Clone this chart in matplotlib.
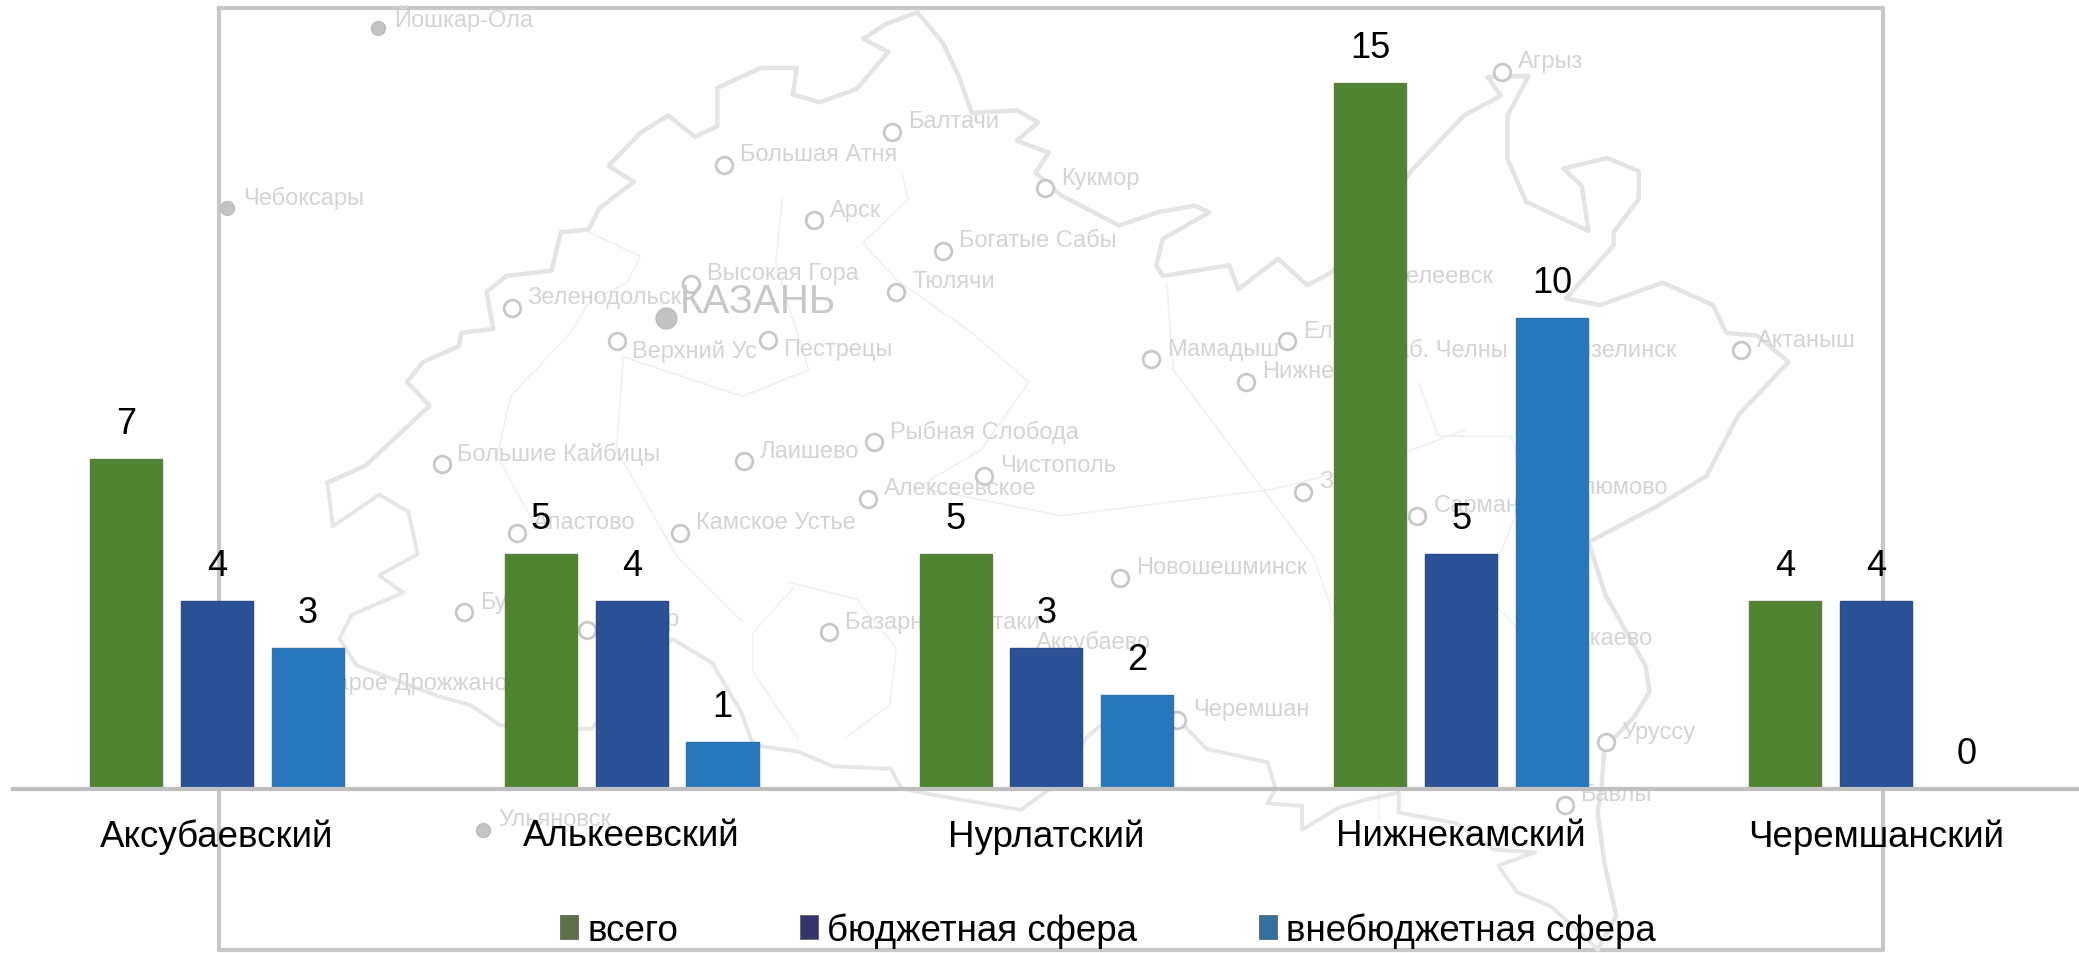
"""Численность по районам: столбцы на фоне бледной карты Татарстана."""
import matplotlib
matplotlib.use("Agg")
import matplotlib.pyplot as plt
from matplotlib.patches import Patch

W, H = 2079, 954

districts = ["Аксубаевский", "Алькеевский", "Нурлатский", "Нижнекамский", "Черемшанский"]
series_names = ["всего", "бюджетная сфера", "внебюджетная сфера"]
total = [7, 5, 5, 15, 4]
budget = [4, 4, 3, 5, 4]
offbudget = [3, 1, 2, 10, 0]
bar_colors = ["#4f8430", "#2b5197", "#2877bd"]
bar_edges = ["#5f7d42", "#2a4a88", "#2f73ad"]
legend_colors = ["#5e7048", "#33356c", "#33709f"]

# фоновая карта, координаты в масштабе 1568x720
border = [(247, 365), (276, 352), (310, 320), (324, 307), (307, 289), (319, 274), (346, 262),
          (348, 252), (372, 249), (367, 221), (382, 209), (416, 205), (423, 176), (444, 174),
          (452, 158), (478, 138), (459, 126), (483, 101), (504, 88), (524, 104), (541, 96),
          (541, 67), (574, 52), (601, 52), (598, 72), (618, 78), (646, 68), (670, 40), (651, 30),
          (668, 19), (692, 10), (711, 33), (723, 58), (733, 86), (767, 84), (783, 93), (767, 107),
          (791, 116), (781, 131), (800, 148), (844, 171), (873, 161), (901, 156), (912, 161),
          (877, 181), (872, 201), (877, 209), (927, 201), (934, 219), (964, 196), (986, 216),
          (1005, 206), (1066, 128), (1104, 88), (1132, 73), (1122, 59), (1153, 58), (1137, 88),
          (1137, 121), (1151, 153), (1198, 175), (1193, 141), (1179, 128), (1212, 120),
          (1236, 130), (1236, 151), (1217, 176), (1217, 186), (1181, 226), (1207, 231),
          (1254, 214), (1292, 231), (1302, 252), (1325, 254), (1349, 274), (1311, 314),
          (1287, 360), (1251, 382), (1198, 410), (1211, 450), (1241, 503), (1244, 523),
          (1233, 541), (1210, 566), (1208, 594), (1205, 614), (1210, 652), (1219, 692), (1205, 717)]
border_sw = [(247, 365), (251, 398), (286, 374), (308, 387), (315, 419), (286, 435), (304, 448),
             (265, 465), (256, 483), (269, 503), (330, 526), (355, 533), (377, 548), (446, 551),
             (470, 520), (507, 483), (537, 501), (559, 538), (568, 563), (602, 568), (628, 579),
             (672, 581), (680, 596), (706, 601), (770, 612), (800, 590), (819, 558), (836, 543),
             (888, 543), (910, 566), (956, 576), (962, 596), (956, 607), (982, 609), (982, 627),
             (1010, 610), (1031, 604), (1055, 599), (1055, 614), (1098, 622), (1127, 642),
             (1158, 644), (1130, 654), (1144, 674), (1170, 685), (1205, 717)]
inner_lines = [
    [(444, 176), (483, 194), (473, 214), (445, 228), (430, 252), (385, 300), (375, 345), (405, 400)],
    [(680, 131), (685, 151), (651, 184), (675, 211), (733, 252), (776, 289), (740, 340), (690, 370)],
    [(590, 150), (585, 200), (610, 280), (560, 300), (470, 270), (465, 340), (510, 420), (560, 470)],
    [(880, 215), (885, 280), (900, 300), (930, 340), (990, 420), (1040, 560), (1040, 620)],
    [(1070, 290), (1085, 330), (1140, 330), (1150, 370), (1120, 450), (1190, 520), (1185, 590)],
    [(700, 370), (800, 390), (880, 380), (960, 370), (1040, 350), (1105, 325)],
    [(594, 440), (646, 453), (676, 490), (671, 533), (637, 558)],
    [(598, 445), (568, 478), (568, 508), (602, 558)],
]
city_names = ["Йошкар-Ола", "Чебоксары", "Балтачи", "Большая Атня", "Кукмор", "Арск", "Богатые Сабы",
              "Высокая Гора", "Тюлячи", "Зеленодольск", "Верхний Ус", "Пестрецы", "Мамадыш",
              "Елабуга", "Нижнекамск", "Актаныш", "Агрыз", "Большие Кайбицы", "Лаишево",
              "Рыбная Слобода", "Чистополь", "Алексеевское", "Заинск", "Апастово", "Камское Устье",
              "Сарманово", "Новошешминск", "Буинск", "Болгар", "Базарные Матаки", "Черемшан",
              "Уруссу", "Бавлы", "Ульяновск"]
city_x = [285, 171, 673, 546, 788, 614, 711, 521, 676, 386, 465, 579, 868, 971, 940, 1313, 1133, 333,
          561, 659, 742, 655, 983, 390, 513, 1069, 845, 350, 443, 625, 888, 1211, 1180, 364]
city_y = [22, 158, 100, 125, 143, 167, 190, 215, 221, 233, 258, 257, 272, 258, 289, 265, 55, 351,
          349, 334, 360, 377, 372, 403, 403, 390, 437, 463, 476, 478, 544, 561, 608, 627]
outside = ["Йошкар-Ола", "Чебоксары", "Ульяновск"]
label_below = ["Верхний Ус", "Пестрецы"]
extra_labels = ["Менделеевск", "Наб. Челны", "Мензелинск", "Муслюмово", "Аксубаево", "Азнакаево", "Старое Дрожжаное"]
extra_x = [1015, 1040, 1165, 1160, 781, 1160, 232]
extra_y = [209, 265, 265, 368, 485, 482, 516]

plt.rcParams["font.family"] = ["Liberation Sans", "DejaVu Sans"]
fig = plt.figure(figsize=(W / 100, H / 100), dpi=100)

# карта снизу
bg = fig.add_axes([0, 0, 1, 1], zorder=0)
bg.set_xlim(0, 1568)
bg.set_ylim(720, 0)
bg.axis("off")
bg.plot([165, 1420, 1420, 165, 165], [7, 7, 718, 718, 7], color="#c8c8c8", lw=3)
for line in inner_lines:
    bg.plot(*zip(*line), color="#f1f1f1", lw=1.2)
bg.plot(*zip(*border), color="#e4e4e4", lw=3.2, solid_joinstyle="round")
bg.plot(*zip(*border_sw), color="#e6e6e6", lw=2.8, solid_joinstyle="round")
for name, x, y in zip(city_names, city_x, city_y):
    if name in outside:
        bg.plot(x, y, "o", ms=10, mfc="#c4c4c4", mec="#bdbdbd")
    else:
        bg.plot(x, y, "o", ms=12, mfc="white", mec="#c8c8c8", mew=2)
    dy = 7 if name in label_below else -8
    bg.text(x + 12, y + dy, name, color="#d4d4d4", fontsize=17, va="center")
for name, x, y in zip(extra_labels, extra_x, extra_y):
    bg.text(x, y, name, color="#d4d4d4", fontsize=17, va="center")
bg.plot(502, 241, "o", ms=15, mfc="#c2c2c2", mec="#bcbcbc")
bg.text(513, 228, "КАЗАНЬ", color="#c8c8c8", fontsize=29, va="center")

# столбцы
ax = fig.add_axes([13 / W, (H - 790) / H, (W - 13) / W, 790 / H], zorder=1)
ax.patch.set_alpha(0)
width = 0.174
step = 0.219
positions = range(len(districts))
for k, values in enumerate([total, budget, offbudget]):
    xs = [p + (k - 1) * step for p in positions]
    bars = ax.bar(xs, values, width, color=bar_colors[k], edgecolor=bar_edges[k], lw=1)
    ax.bar_label(bars, labels=[str(v) for v in values], padding=13, fontsize=26)

ax.set_xlim(-0.492, 4.49)
ax.set_ylim(0, 16.78)
ax.set_yticks([])
ax.set_xticks(list(positions), districts, fontsize=26.5)
ax.tick_params(axis="x", length=0, pad=21)
for side in ("top", "left", "right"):
    ax.spines[side].set_visible(False)
ax.spines["bottom"].set_color("#c0c0c0")
ax.spines["bottom"].set_linewidth(3)

handles = [Patch(facecolor=c, edgecolor="#555555", lw=0.5) for c in legend_colors]
fig.legend(handles, series_names, loc="center", bbox_to_anchor=(1108 / W, 1 - 931 / H), ncol=3,
           frameon=False, fontsize=26.5, handlelength=0.5, handleheight=0.6, handletextpad=0.25,
           columnspacing=3.3, borderpad=0)

fig.savefig("out.png", dpi=100)
